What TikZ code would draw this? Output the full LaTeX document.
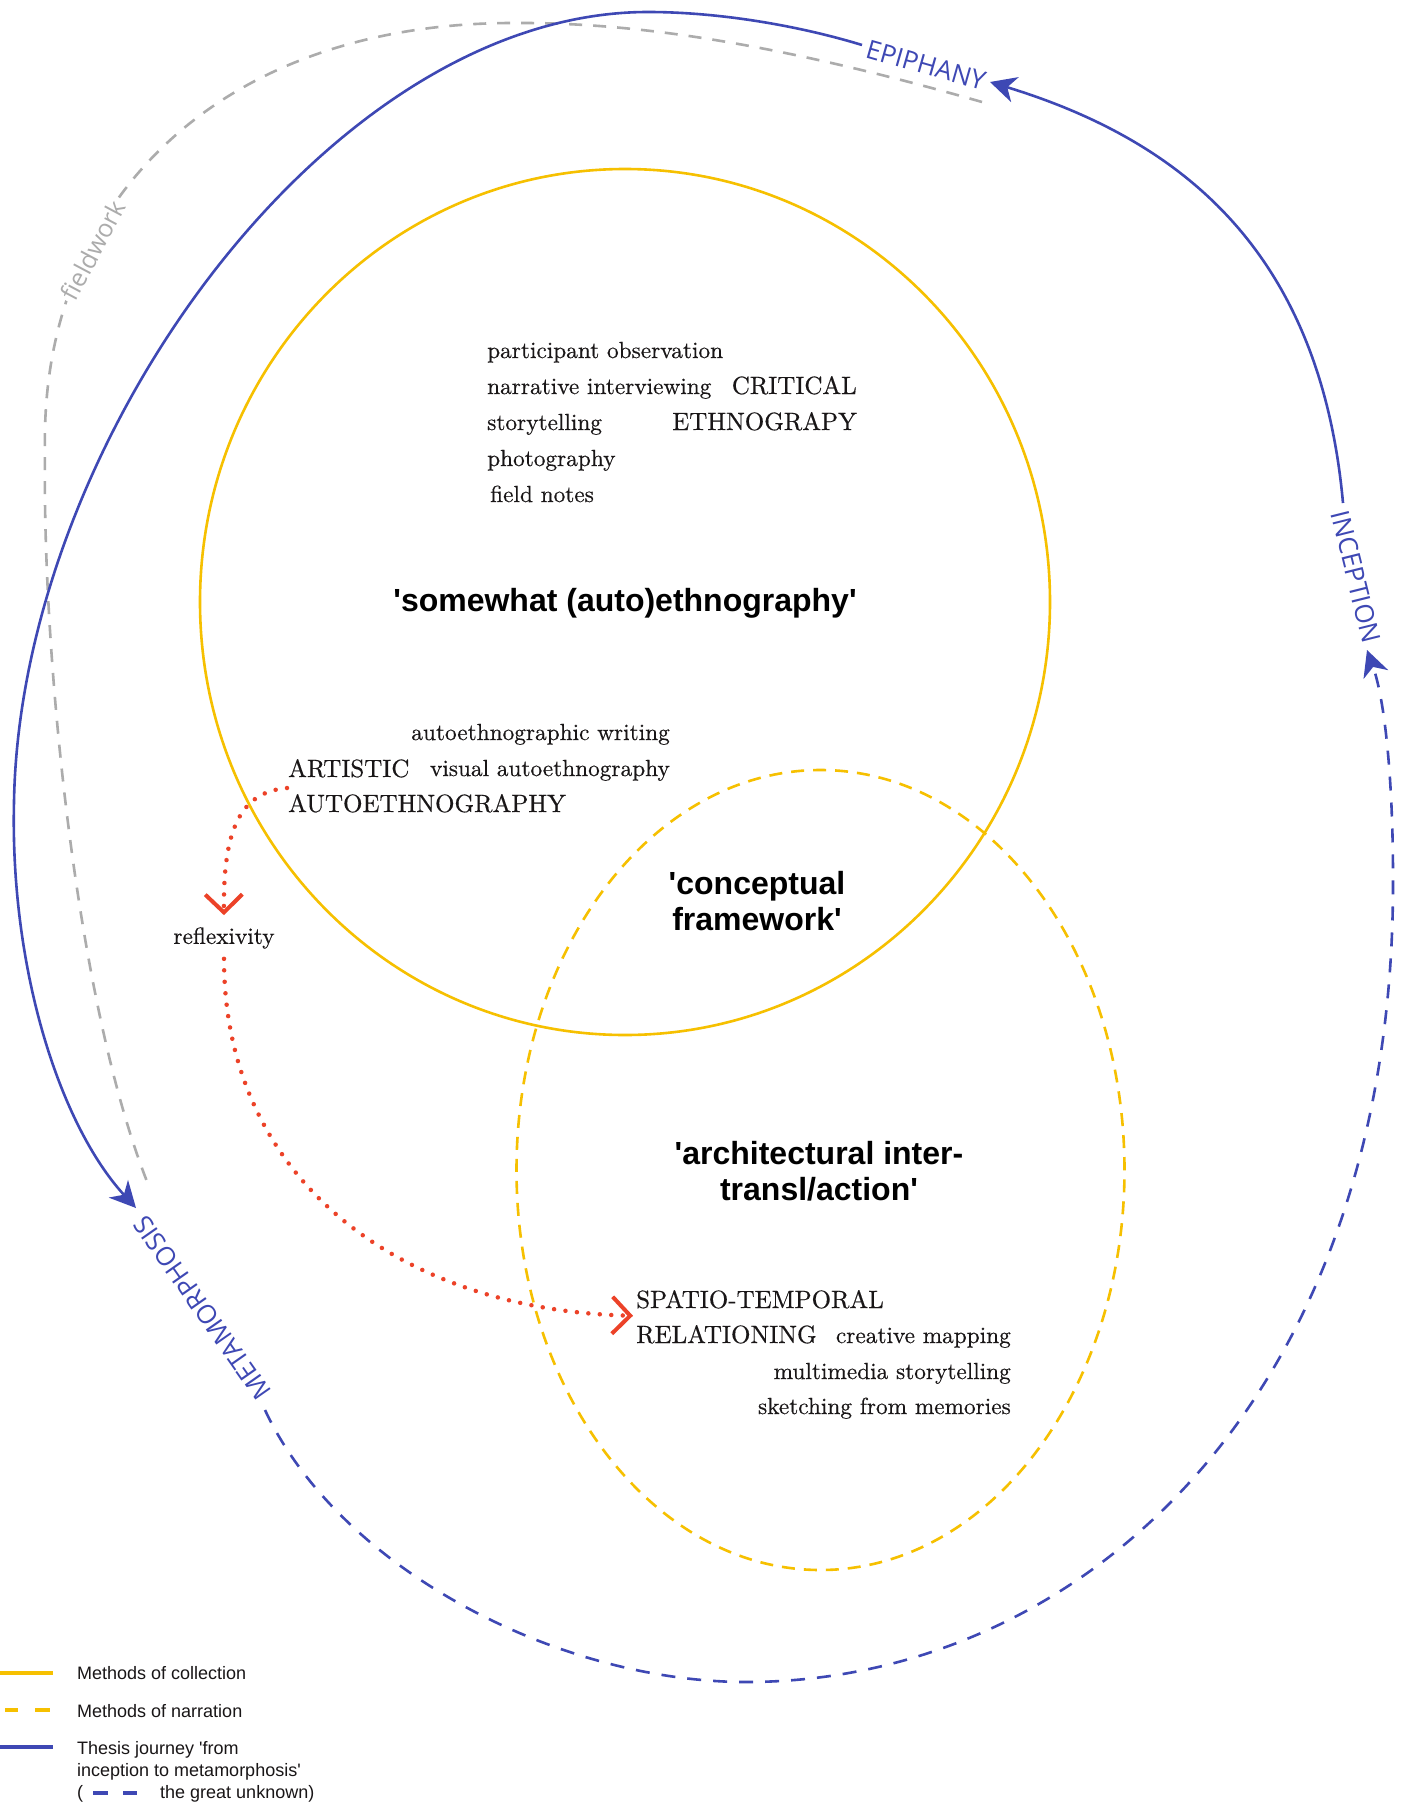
\documentclass[tikz,border=0pt]{standalone}
\usepackage{fontspec}
\usetikzlibrary{arrows.meta}
\newfontfamily\journeyfont{Open Sans}
\newfontfamily\headfont{Liberation Sans}
\newfontfamily\bookfont{lmroman10-regular}[Extension=.otf, FakeBold=0.45]
\newcommand{\straightq}{\textquotesingle}
\definecolor{collect}{RGB}{246,192,0}
\definecolor{journey}{RGB}{62,72,180}
\definecolor{field}{RGB}{172,172,172}
\definecolor{reflex}{RGB}{236,66,40}
\definecolor{ink}{RGB}{25,22,23}

\begin{document}
\begin{tikzpicture}[x=1pt,y=1pt,
  method/.style={font=\bookfont\fontsize{23.3}{28}\selectfont, text=ink, inner sep=0pt},
  capsword/.style={font=\bookfont\fontsize{25}{28}\selectfont, text=ink, inner sep=0pt},
  heading/.style={font=\headfont\bfseries\fontsize{32}{36}\selectfont, text=black, align=center, inner sep=0pt},
  stage/.style={font=\journeyfont\fontsize{26}{30}\selectfont, text=journey, inner sep=0pt},
  legendtext/.style={font=\headfont\fontsize{18}{21}\selectfont, text=ink, inner sep=0pt, anchor=base west},
  collection/.style={draw=collect, line width=2.6pt},
  narration/.style={collection, dash pattern=on 13pt off 9pt},
  thesis/.style={draw=journey, line width=2.6pt},
  unknown/.style={thesis, dash pattern=on 14pt off 12pt},
  fieldpath/.style={draw=field, line width=2.6pt, dash pattern=on 13pt off 11pt},
  reflexpath/.style={draw=reflex, line width=4.5pt, line cap=round, dash pattern=on 0pt off 11.5pt},
  bluetip/.style={-{Stealth[length=26pt,width=26pt,inset=8pt]}},
  redtip/.style={-{Straight Barb[length=18pt,width=37pt,line width=4pt]}},
]
\fill[white] (0,0) rectangle (1405,-1804);
\useasboundingbox (0,0) rectangle (1405,-1804);

% methods of collection and of narration
\draw[collection] (625,-602) ellipse [x radius=425pt, y radius=433pt];
\draw[narration] (820.5,-1170) ellipse [x radius=304pt, y radius=400pt];

% end points of the journey and the fieldwork trail
\coordinate (metaend) at (265,-1410);
\coordinate (inceptiontip) at (1367,-650);
\coordinate (inceptiontop) at (1343,-503);
\coordinate (epiphanytip) at (990,-82);
\coordinate (epiphanystart) at (862,-45);
\coordinate (metatip) at (136,-1208);
\coordinate (fieldstart) at (982,-102);
\coordinate (fieldend) at (148,-1184);

% fieldwork trail
\draw[fieldpath] (fieldstart) .. controls (800,-50) and (650,-22) .. (513,-23)
  .. controls (220,-23) and (40,-200) .. (45,-450)
  .. controls (42,-650) and (75,-1000) .. (fieldend);
\node[font=\journeyfont\fontsize{25}{30}\selectfont, text=field, rotate=62, fill=white, inner sep=3pt] (fieldwork) at (93,-250) {fieldwork};

% thesis journey
\draw[unknown, bluetip] (metaend) .. controls (340,-1570) and (560,-1682) .. (746,-1682)
  .. controls (1080,-1682) and (1395,-1400) .. (1393,-878)
  .. controls (1393,-780) and (1385,-700) .. (inceptiontip);
\draw[thesis, bluetip] (inceptiontop) .. controls (1320,-250) and (1180,-140) .. (epiphanytip);
\draw[thesis, bluetip] (epiphanystart) .. controls (800,-26) and (720,-12) .. (648,-12)
  .. controls (330,-12) and (20,-440) .. (14,-802)
  .. controls (10,-970) and (60,-1125) .. (metatip);

\node[stage, rotate=-16] (epiphany) at (926,-65) {EPIPHANY};
\node[stage, rotate=-76] (inception) at (1356,-577) {INCEPTION};
\node[stage, rotate=125] (metamorphosis) at (202,-1308) {METAMORPHOSIS};

% headings
\node[heading] (somewhat) at (625,-603) {\straightq somewhat (auto)ethnography\straightq};
\node[heading] (conceptual) at (757,-901) {\straightq conceptual\\framework\straightq};
\node[heading] (architectural) at (819,-1171) {\straightq architectural inter-\\transl/action\straightq};

% critical ethnography
\node[method, anchor=base west] (partobs) at (487,-358) {participant observation};
\node[method, anchor=base west] (narrative) at (487,-394) {narrative interviewing};
\node[method, anchor=base west] (storytelling) at (487,-430) {storytelling};
\node[method, anchor=base west] (photography) at (487,-466) {photography};
\node[method, anchor=base west] (fieldnotes) at (490,-502) {field notes};
\node[capsword, anchor=base east] (critical) at (857,-394) {CRITICAL};
\node[capsword, anchor=base east] (ethnograpy) at (857,-430) {ETHNOGRAPY};

% artistic autoethnography
\node[method, anchor=base east] (autowriting) at (670,-740) {autoethnographic writing};
\node[method, anchor=base east] (visualauto) at (670,-776) {visual autoethnography};
\node[capsword, anchor=base west] (artistic) at (288,-777) {ARTISTIC};
\node[capsword, anchor=base west] (autoeth) at (288,-812) {AUTOETHNOGRAPHY};

% reflexivity
\node[method] (reflexivity) at (224,-938) {reflexivity};

% spatio-temporal relationing
\node[capsword, anchor=base west] (spatio) at (636,-1308) {SPATIO-TEMPORAL};
\node[capsword, anchor=base west] (relationing) at (636,-1343) {RELATIONING};
\node[method, anchor=base east] (mapping) at (1011,-1343) {creative mapping};
\node[method, anchor=base east] (multimedia) at (1011,-1379) {multimedia storytelling};
\node[method, anchor=base east] (sketching) at (1011,-1414) {sketching from memories};

% reflexive links
\coordinate (artstart) at (287,-788);
\coordinate (reflextop) at ([yshift=12pt]reflexivity.north);
\coordinate (reflexbottom) at ([yshift=-10pt]reflexivity.south);
\coordinate (spatioarrow) at ([xshift=-3pt,yshift=-7pt]spatio.south west);
\draw[reflexpath, redtip] (artstart) .. controls (240,-792) and (223,-830) .. (reflextop);
\draw[reflexpath, redtip] (reflexbottom) .. controls (224,-1180) and (400,-1310) .. (spatioarrow);

% legend
\draw[collection, line width=4pt] (0,-1673) -- (53,-1673);
\draw[collection, line width=4pt] (5,-1710) -- (18,-1710);
\draw[collection, line width=4pt] (35,-1710) -- (50,-1710);
\draw[thesis, line width=4pt] (0,-1747) -- (53,-1747);
\draw[thesis, line width=4pt] (93,-1793) -- (108,-1793);
\draw[thesis, line width=4pt] (123,-1793) -- (137,-1793);
\node[legendtext] (lgcollect) at (77,-1679) {Methods of collection};
\node[legendtext] (lgnarrate) at (77,-1717) {Methods of narration};
\node[legendtext] (lgthesis) at (77,-1754) {Thesis journey \straightq from};
\node[legendtext] (lgthesisb) at (77,-1776) {inception to metamorphosis\straightq};
\node[legendtext] (lgopen) at (77,-1798) {(};
\node[legendtext] (lgunknown) at (160,-1798) {the great unknown)};
\end{tikzpicture}
\end{document}
